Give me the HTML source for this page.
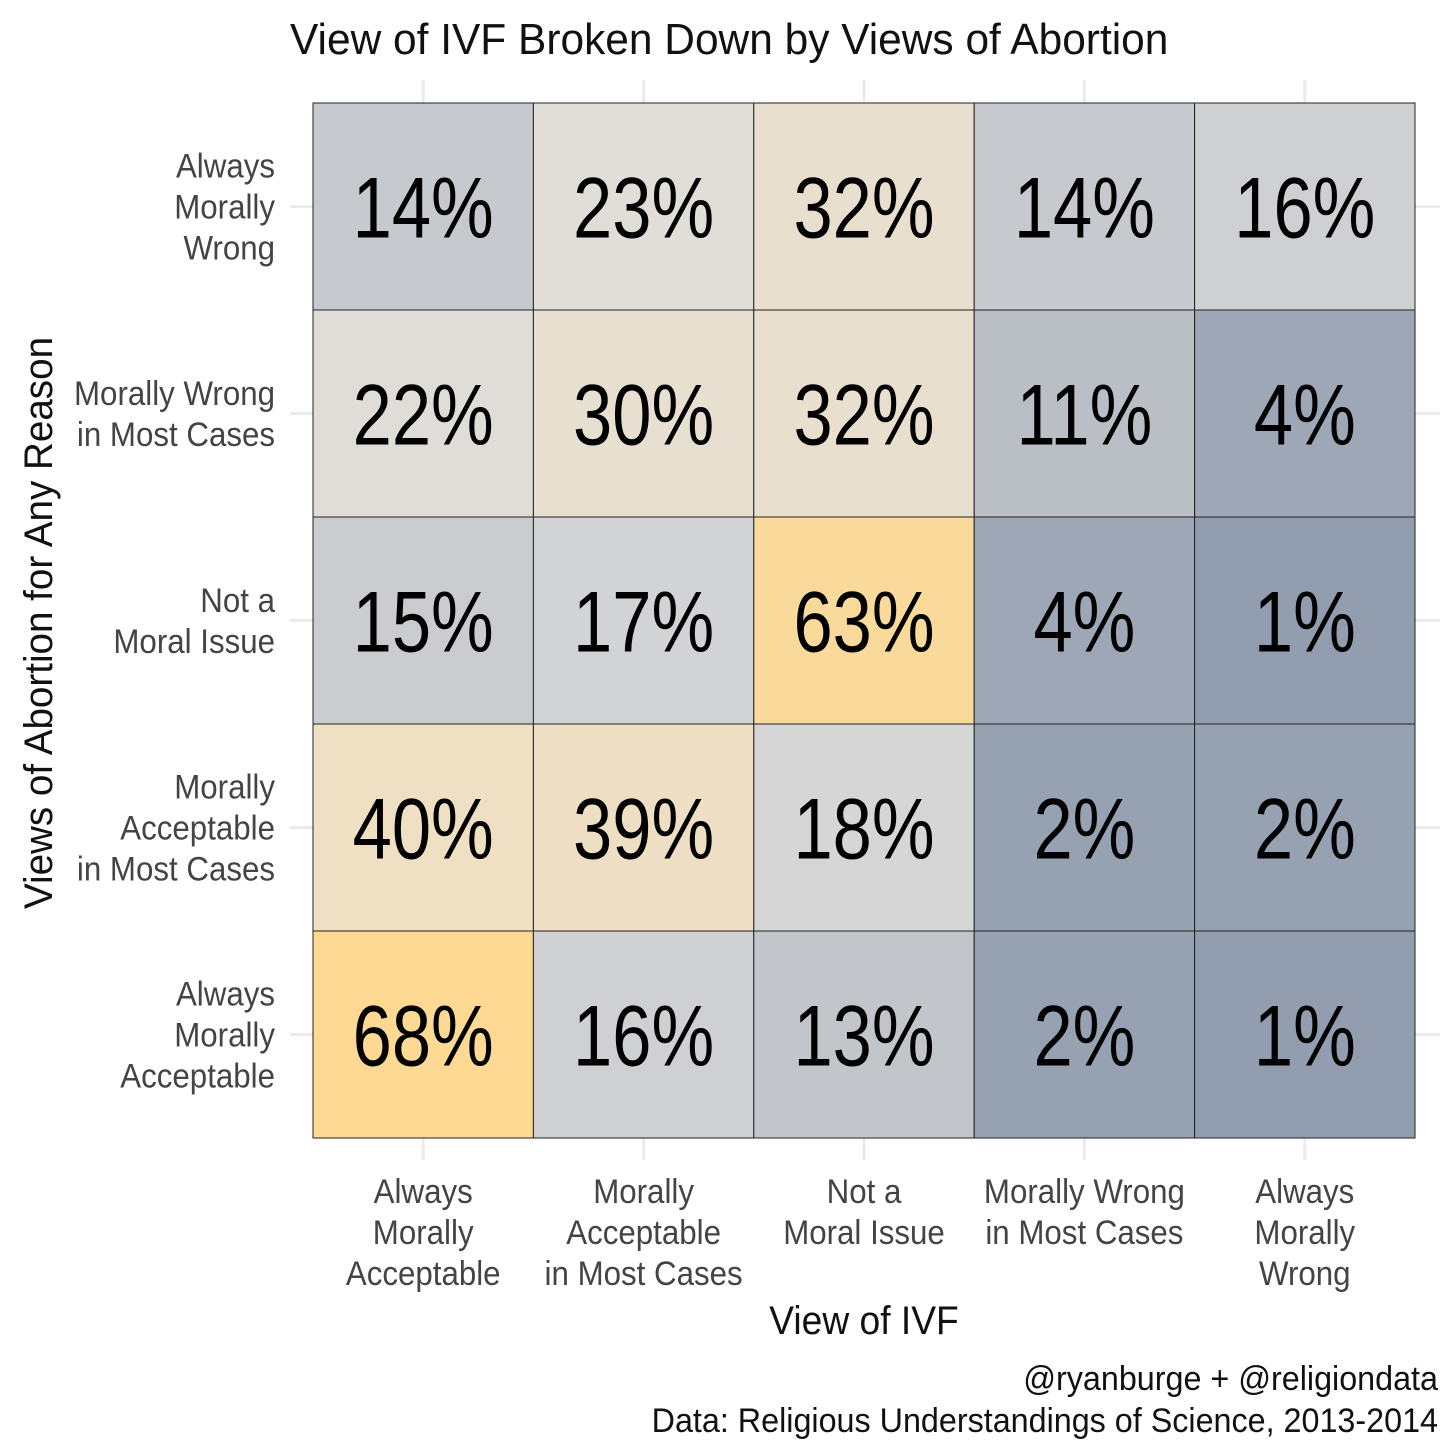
<!DOCTYPE html>
<html><head><meta charset="utf-8"><style>
html,body{margin:0;padding:0;background:#fff;}
svg{display:block;font-family:"Liberation Sans",sans-serif;}
</style></head><body>
<svg id="chart" width="1456" height="1456" viewBox="0 0 1456 1456">
<text transform="translate(290,54) scale(0.965,1)" font-size="44" fill="#111">View of IVF Broken Down by Views of Abortion</text>
<g id="grid"></g>
<g id="tiles"></g>
<g id="xlabels"></g>
<g id="ylabels"></g>
<text transform="translate(864,1334) scale(0.93,1)" font-size="40" text-anchor="middle" fill="#111">View of IVF</text>
<text transform="translate(52,623) rotate(-90) scale(0.965,1)" font-size="40" text-anchor="middle" fill="#111">Views of Abortion for Any Reason</text>
<text transform="translate(1438,1390) scale(0.95,1)" font-size="34" text-anchor="end" fill="#111">@ryanburge + @religiondata</text>
<text transform="translate(1438,1432) scale(0.95,1)" font-size="34" text-anchor="end" fill="#111">Data: Religious Understandings of Science, 2013-2014</text>
</svg>
<script>
const xCategories=[["Always","Morally","Acceptable"],["Morally","Acceptable","in Most Cases"],["Not a","Moral Issue"],["Morally Wrong","in Most Cases"],["Always","Morally","Wrong"]];
const yCategories=[["Always","Morally","Wrong"],["Morally Wrong","in Most Cases"],["Not a","Moral Issue"],["Morally","Acceptable","in Most Cases"],["Always","Morally","Acceptable"]];
const row0=[14,23,32,14,16];
const row1=[22,30,32,11,4];
const row2=[15,17,63,4,1];
const row3=[40,39,18,2,2];
const row4=[68,16,13,2,1];
const values=[row0,row1,row2,row3,row4];

const NS="http://www.w3.org/2000/svg";
const X0=313,X1=1415,Y0=103,Y1=1138;
const cw=(X1-X0)/5,ch=(Y1-Y0)/5;
const xPos=i=>X0+i*cw, yPos=j=>Y0+j*ch;
function mk(t,a,p){const e=document.createElementNS(NS,t);for(const k in a)e.setAttribute(k,a[k]);p.appendChild(e);return e;}
function lerp(a,b,t){return a.map((v,i)=>Math.round(v+(b[i]-v)*t));}
const stops=[[0,[142,154,173]],[20,[222,221,219]],[35,[236,224,203]],[68,[253,217,147]]];
function color(v){for(let i=1;i<stops.length;i++){if(v<=stops[i][0]){const t=(v-stops[i-1][0])/(stops[i][0]-stops[i-1][0]);return "rgb("+lerp(stops[i-1][1],stops[i][1],t).join(",")+")";}}return "rgb("+stops[stops.length-1][1].join(",")+")";}
const grid=document.getElementById('grid');
for(let i=0;i<5;i++){
 const l=mk('line',{x1:xPos(i)+cw/2,x2:xPos(i)+cw/2,y1:80,y2:1160,stroke:'#ebebeb','stroke-width':3},grid);
 
 
 const m=mk('line',{x1:290,x2:1440,y1:yPos(i)+ch/2,y2:yPos(i)+ch/2,stroke:'#ebebeb','stroke-width':3},grid);
 
 
}
const tiles=document.getElementById('tiles');
values.forEach((row,j)=>row.forEach((v,i)=>{
 const r=mk('rect',{x:xPos(i),y:yPos(j),width:cw,height:ch,fill:color(v),stroke:'#222','stroke-width':1},tiles);
 
 
 const t=mk('text',{transform:`translate(${xPos(i)+cw/2},${yPos(j)+ch/2+31}) scale(0.82,1)`,'font-size':86,'text-anchor':'middle',fill:'#000'},tiles);
 
 
 t.textContent=v+"%";
}));
const xl=document.getElementById('xlabels');
xCategories.forEach((lines,i)=>{
 const t=mk('text',{transform:`translate(${xPos(i)+cw/2},1203) scale(0.92,1)`,'font-size':34,'text-anchor':'middle',fill:'#444'},xl);
 
 
 lines.forEach((s,k)=>{const ts=mk('tspan',{x:0,dy:k?41:0},t);ts.textContent=s;});
});
const yl=document.getElementById('ylabels');
yCategories.forEach((lines,j)=>{
 const n=lines.length;
 const start=yPos(j)+ch/2+12-(n-1)*41/2;
 const t=mk('text',{transform:`translate(275,${start}) scale(0.92,1)`,'font-size':34,'text-anchor':'end',fill:'#444'},yl);
 
 
 lines.forEach((s,k)=>{const ts=mk('tspan',{x:0,dy:k?41:0},t);ts.textContent=s;});
});
</script>
</body></html>
